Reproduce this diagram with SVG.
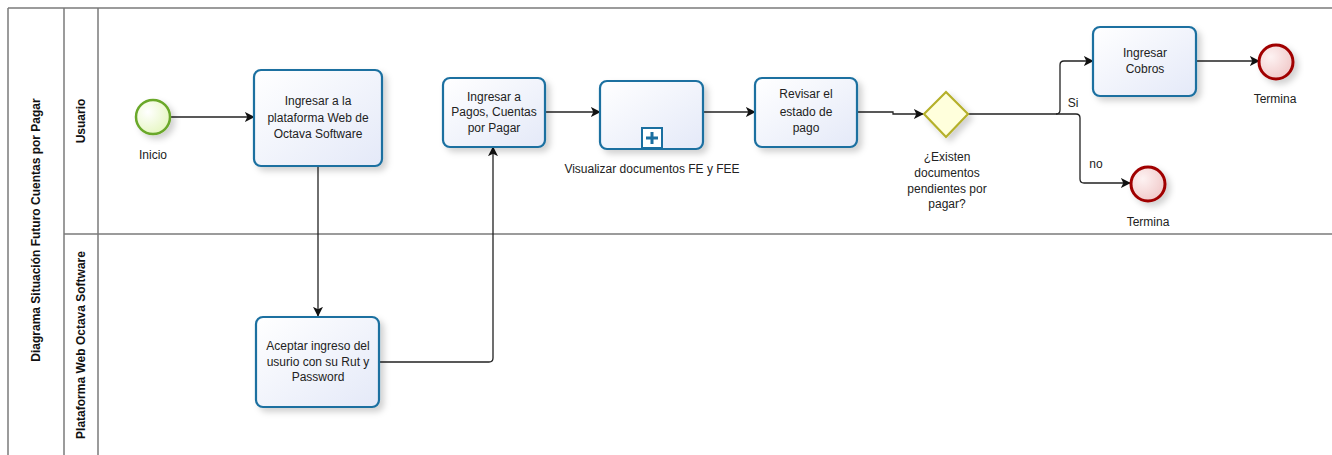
<svg xmlns="http://www.w3.org/2000/svg" width="1332" height="455" viewBox="0 0 1332 455">
<style>
.t{font-family:"Liberation Sans",Arial,sans-serif;font-size:12px;fill:#222;text-anchor:middle}
.b{font-family:"Liberation Sans",Arial,sans-serif;font-size:12px;font-weight:bold;fill:#111;text-anchor:middle}
.task{fill:url(#gt);stroke:#1a6fa0;stroke-width:2.2}
.ln{stroke:#7a7a7a;stroke-width:1.5;fill:none}
.c{stroke:#222;stroke-width:1.3;fill:none;marker-end:url(#ar)}
</style>
<defs>
<linearGradient id="gt" x1="0" y1="0" x2="1" y2="1"><stop offset="0" stop-color="#ffffff"/><stop offset="1" stop-color="#e4e9f8"/></linearGradient>
<radialGradient id="gs" cx="0.35" cy="0.35" r="0.8"><stop offset="0" stop-color="#ffffff"/><stop offset="1" stop-color="#e2f5b8"/></radialGradient>
<radialGradient id="ge" cx="0.35" cy="0.35" r="0.8"><stop offset="0" stop-color="#fdf2f2"/><stop offset="1" stop-color="#efc4c4"/></radialGradient>
<filter id="sh" x="-20%" y="-20%" width="150%" height="150%"><feDropShadow dx="4" dy="4" stdDeviation="3" flood-color="#000" flood-opacity="0.18"/></filter>
<marker id="ar" viewBox="0 0 12 12" refX="11" refY="6" markerWidth="10" markerHeight="10" markerUnits="userSpaceOnUse" orient="auto"><path d="M0,0 L12,6 L0,12 L3,6 Z" fill="#111"/></marker>
</defs>
<g id="pool">
<rect x="8" y="8" width="1340" height="460" fill="#fff" stroke="none"/>
<line class="ln" x1="8" y1="8" x2="1332" y2="8"/>
<line class="ln" x1="8" y1="8" x2="8" y2="455"/>
<line class="ln" x1="64" y1="8" x2="64" y2="455"/>
<line class="ln" x1="98" y1="8" x2="98" y2="455"/>
<line class="ln" x1="64" y1="234" x2="1332" y2="234"/>
<text class="b" transform="translate(40,230) rotate(-90)">Diagrama Situación Futuro Cuentas por Pagar</text>
<text class="b" transform="translate(85,121) rotate(-90)">Usuario</text>
<text class="b" transform="translate(85,345) rotate(-90)">Plataforma Web Octava Software</text>
</g>
<g id="connectors">
<path class="c" d="M171,117 H254"/>
<path class="c" d="M318,166 V316"/>
<path class="c" d="M379,362 H489 Q493,362 493,358 V147"/>
<path class="c" d="M545,112 H600"/>
<path class="c" d="M703,112 H755"/>
<path class="c" d="M857,112 H893 V114 H923"/>
<path class="c" d="M968,114 H1056 Q1060,114 1060,110 V65 Q1060,61 1064,61 H1093"/>
<path class="c" d="M1056,114 H1076 Q1080,114 1080,118 V179 Q1080,183 1084,183 H1130"/>
<path class="c" d="M1196,61 H1259"/>
<text class="t" x="1073" y="107">Si</text>
<text class="t" x="1096" y="168">no</text>
</g>
<g id="start">
<circle cx="153" cy="117" r="17" fill="url(#gs)" stroke="#6aa82a" stroke-width="2.5" filter="url(#sh)"/>
<text class="t" x="153" y="159">Inicio</text>
</g>
<g id="task1">
<rect class="task" x="254" y="70" width="128" height="96" rx="7" filter="url(#sh)"/>
<text class="t" x="318" y="105">Ingresar a la</text>
<text class="t" x="318" y="122">plataforma Web de</text>
<text class="t" x="318" y="138">Octava Software</text>
</g>
<g id="task2">
<rect class="task" x="256" y="317" width="123" height="90" rx="7" filter="url(#sh)"/>
<text class="t" x="318" y="350">Aceptar ingreso del</text>
<text class="t" x="318" y="366">usurio con su Rut y</text>
<text class="t" x="318" y="381">Password</text>
</g>
<g id="task3">
<rect class="task" x="443" y="78" width="102" height="69" rx="7" filter="url(#sh)"/>
<text class="t" x="494" y="101">Ingresar a</text>
<text class="t" x="494" y="116">Pagos, Cuentas</text>
<text class="t" x="494" y="132">por Pagar</text>
</g>
<g id="subprocess">
<rect class="task" x="600" y="81" width="103" height="68" rx="7" filter="url(#sh)"/>
<rect x="642" y="128" width="20" height="20" fill="#fff" stroke="#1a6fa0" stroke-width="2"/>
<path d="M652,132 V144 M646,138 H658" stroke="#1a6fa0" stroke-width="3"/>
<text class="t" x="652" y="173">Visualizar documentos FE y FEE</text>
</g>
<g id="task4">
<rect class="task" x="755" y="78" width="102" height="69" rx="7" filter="url(#sh)"/>
<text class="t" x="806" y="98">Revisar el</text>
<text class="t" x="806" y="116">estado de</text>
<text class="t" x="806" y="132">pago</text>
</g>
<g id="gateway">
<polygon points="946,92 968,114 946,137 924,114" fill="#ffffdc" stroke="#b5b02a" stroke-width="2.2" filter="url(#sh)"/>
<text class="t" x="947" y="161">¿Existen</text>
<text class="t" x="947" y="177">documentos</text>
<text class="t" x="947" y="193">pendientes por</text>
<text class="t" x="947" y="208">pagar?</text>
</g>
<g id="task5">
<rect class="task" x="1093" y="27" width="103" height="69" rx="7" filter="url(#sh)"/>
<text class="t" x="1145" y="57">Ingresar</text>
<text class="t" x="1145" y="73">Cobros</text>
</g>
<g id="end1">
<circle cx="1276" cy="62" r="17" fill="url(#ge)" stroke="#a00000" stroke-width="3" filter="url(#sh)"/>
<text class="t" x="1275" y="103">Termina</text>
</g>
<g id="end2">
<circle cx="1148" cy="184" r="17" fill="url(#ge)" stroke="#a00000" stroke-width="3" filter="url(#sh)"/>
<text class="t" x="1148" y="226">Termina</text>
</g>
</svg>
